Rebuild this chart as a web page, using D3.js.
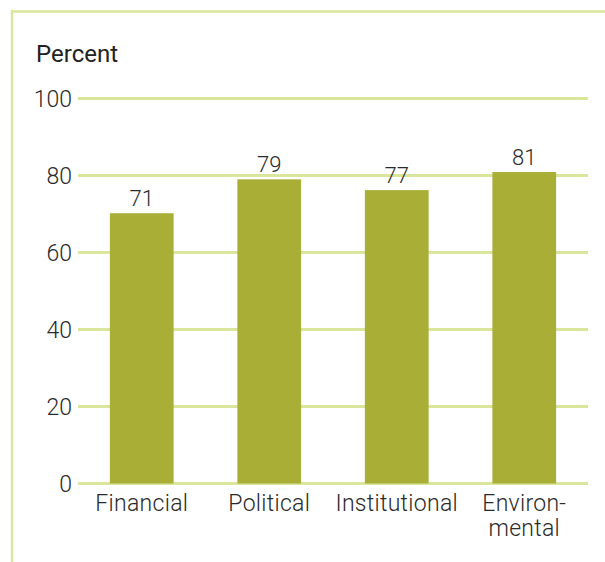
<!DOCTYPE html>
<html><head><meta charset="utf-8">
<script src="https://cdn.jsdelivr.net/npm/d3@7/dist/d3.min.js"></script>
<style>body{margin:0;background:#fff}svg{display:block}</style>
</head><body><svg id="c" width="605" height="562"></svg>
<script>
const categories = ["Financial", "Political", "Institutional", "Environ-|mental"];
const values = [70.2, 79, 76.2, 80.9];
const valueLabels = ["71", "79", "77", "81"];
const yTicks = [0, 20, 40, 60, 80, 100];
const yTitle = "Percent";

const svg = d3.select("#c");
const gridColor = "#d9e69c";
const barColor = "#a9ae37";
const font = "Roboto, 'DejaVu Sans', sans-serif";

// frame
svg.append("line").attr("x1", 11).attr("x2", 605).attr("y1", 11.5).attr("y2", 11.5)
  .attr("stroke", gridColor).attr("stroke-width", 2.5);
svg.append("line").attr("x1", 12).attr("x2", 12).attr("y1", 10).attr("y2", 562)
  .attr("stroke", gridColor).attr("stroke-width", 2.5);

const x = d3.scaleBand().domain(categories).range([78, 588]).paddingInner(0.5).paddingOuter(0.25);
const y = d3.scaleLinear().domain([0, 100]).range([483.5, 98.5]);

// grid
const yAxis = d3.axisLeft(y).tickValues(yTicks).tickSize(0).tickPadding(6);
const gy = svg.append("g").attr("transform", "translate(78,0)").call(yAxis);
gy.select(".domain").remove();
gy.selectAll("text").attr("font-family", font).attr("font-size", 23).attr("font-weight", 300)
  .attr("fill", "#2a2a2a").attr("dy", "0.36em");
svg.append("g").selectAll("line").data(yTicks).join("line")
  .attr("x1", 78).attr("x2", 588).attr("y1", d => y(d)).attr("y2", d => y(d))
  .attr("stroke", gridColor).attr("stroke-width", 3);

// bars
svg.append("g").selectAll("rect").data(categories).join("rect")
  .attr("x", d => x(d)).attr("width", x.bandwidth())
  .attr("y", (d, i) => y(values[i])).attr("height", (d, i) => y(0) - y(values[i]))
  .attr("fill", barColor);

// value labels
svg.append("g").selectAll("text").data(categories).join("text")
  .attr("x", d => x(d) + x.bandwidth() / 2)
  .attr("y", (d, i) => y(values[i]) - 7)
  .attr("text-anchor", "middle").attr("font-family", font).attr("font-size", 22).attr("font-weight", 300)
  .attr("fill", "#2a2a2a").text((d, i) => valueLabels[i]);

// category labels
const xAxis = d3.axisBottom(x).tickSize(0).tickPadding(0);
const gx = svg.append("g").attr("transform", "translate(0," + y(0) + ")").call(xAxis);
gx.select(".domain").remove();
gx.selectAll("text").each(function(d) {
  const t = d3.select(this);
  t.text(null).attr("y", 0).attr("dy", null)
    .attr("font-family", font).attr("font-size", 23).attr("font-weight", 300).attr("fill", "#2a2a2a")
    .style("letter-spacing", "0.3px");
  d.split("|").forEach((line, k) => {
    t.append("tspan").attr("x", 0).attr("y", 27 + k * 25).text(line);
  });
});

// title
svg.append("text").attr("x", 36).attr("y", 62).attr("font-family", font).attr("font-size", 24)
  .attr("font-weight", 400).attr("fill", "#222").text(yTitle);
</script></body></html>
